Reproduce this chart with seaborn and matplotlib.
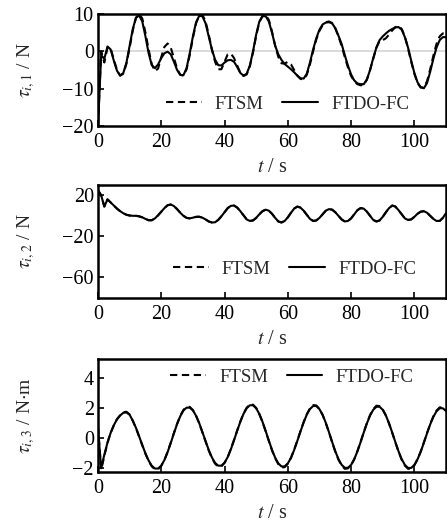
import numpy as np
import pandas as pd
import matplotlib
matplotlib.use("Agg")
import matplotlib.pyplot as plt
import seaborn as sns

# ---------------- data ----------------
time_s = list(range(0, 111))  # sample times, 1 s apart

tau1_ftdo = [-20, -1, -2, 1.3, 0.5, -2.5, -5.2, -6.5, -5.8, -3, 1.5, 6, 9, 9.6, 8, 4, -0.5, -3.7, -4.5, -3.5,
             -1.8, -0.5, -0.1, -0.8, -2.8, -5, -6.3, -6.4, -4.5, -0.5, 4, 7.8, 9.5, 9.4, 7.5, 4, 0.5, -2.2, -3.7, -3.8,
             -3, -2.4, -2.3, -2.8, -4.2, -5.8, -6.5, -6, -3.8, 0, 4.5, 8, 9.4, 9.4, 8, 5, 1.5, -0.8, -2.3, -3.4,
             -4.1, -4.8, -5.6, -6.5, -7.2, -7.3, -6, -3, 0.5, 3.5, 5.8, 7.2, 7.7, 7.8, 7.5, 6.2, 4.2, 2, -1, -3.8,
             -6.2, -7.8, -8.6, -8.8, -8.8, -7.5, -5, -1.8, 1, 3, 4, 4.8, 5.5, 6, 6.4, 6.5, 5.8, 3.8, 1, -2.5,
             -5.8, -8.3, -9.6, -9.9, -8.5, -5.5, -2, 1, 3, 3.8, 3.8]
tau1_ftsm = [-20, 0, -3, 1.0, 0.8, -2.2, -5, -6.5, -6, -3.3, 1, 5.6, 9, 10, 8.8, 5, 0.5, -3.5, -5.3, -4.6,
             -1.5, 1.2, 2.1, 1, -1.8, -4.6, -6.3, -6.5, -4.8, -1, 3.6, 7.5, 9.6, 9.8, 8, 4.5, 0.5, -2.8, -4.8, -4.8,
             -2.8, -0.8, -0.6, -1.8, -3.8, -5.8, -6.6, -6.2, -4, -0.3, 4.2, 7.8, 9.5, 9.7, 8.4, 5.3, 1.5, -1.5, -3.2, -3.3,
             -2.8, -3.5, -5, -6.5, -7.4, -7.5, -6.3, -3.5, 0, 3.2, 5.5, 7, 7.8, 8, 7.6, 6.2, 4, 1.5, -1.5, -4.3,
             -6.6, -8, -8.8, -9.1, -9, -7.6, -5, -2, 1, 2.8, 3, 3.5, 4.5, 5.6, 6.5, 6.8, 6, 4, 0.8, -2.8,
             -6, -8.5, -9.7, -9.7, -8, -4.8, -1.2, 2, 4, 4.8, 4.6]

tau2_ftdo = [25, 20, 9, 16, 13, 10, 7, 4.5, 2.5, 1, 0.3, 0, 0, -0.5, -1.5, -3, -4.3, -4.3, -2.5, 0.5,
             4, 7.5, 10.3, 11, 9.5, 6.5, 3, 0, -2, -2.5, -1.8, -1, -0.9, -1.8, -3.5, -5.5, -6.5, -6.3, -4, -0.5,
             3.5, 7.5, 9.7, 10, 8, 4.5, 0.5, -3.5, -5, -4.5, -2, 1.5, 4.5, 6, 5, 2, -2, -5.5, -6.5, -5,
             -1.5, 3, 7, 9, 8, 5, 1, -3, -5, -4.5, -2, 1.5, 5, 6.5, 6, 3.5, 0, -3.5, -5.5, -5,
             -2.5, 1.5, 5.5, 7.5, 7, 4, 0, -4, -5.5, -4.5, -1, 3.5, 7.5, 10, 9, 5.5, 1.5, -2.5, -4, -3.5,
             -1, 2, 4, 4.5, 3, 0, -3, -5, -5, -2, 2.5]
tau2_ftsm = tau2_ftdo  # the two curves coincide in the reference

tau3_ftdo = [0.6, -2.0, -1.1, -0.3, 0.35, 0.85, 1.25, 1.5, 1.68, 1.7, 1.55, 1.15, 0.68, 0.12, -0.46, -1.02, -1.49, -1.84, -2.02, -2.02,
             -1.83, -1.45, -0.93, -0.32, 0.32, 0.93, 1.45, 1.83, 2.02, 2.02, 1.84, 1.48, 0.99, 0.40, -0.20, -0.79, -1.28, -1.64, -1.83, -1.83,
             -1.63, -1.26, -0.74, -0.14, 0.49, 1.09, 1.61, 1.98, 2.18, 2.18, 1.98, 1.60, 1.08, 0.47, -0.17, -0.78, -1.30, -1.68, -1.88, -1.88,
             -1.68, -1.31, -0.79, -0.19, 0.44, 1.04, 1.56, 1.93, 2.13, 2.13, 1.92, 1.54, 1.02, 0.40, -0.25, -0.87, -1.39, -1.77, -1.97, -1.97,
             -1.78, -1.40, -0.88, -0.27, 0.37, 0.98, 1.50, 1.88, 2.08, 2.08, 1.88, 1.50, 0.98, 0.37, -0.27, -0.88, -1.40, -1.78, -1.98, -1.98,
             -1.78, -1.41, -0.91, -0.31, 0.31, 0.91, 1.41, 1.78, 1.98, 1.98, 1.80]
tau3_ftsm = [0.8, -2.1, -1.2, -0.3, 0.35, 0.85, 1.25, 1.52, 1.72, 1.75, 1.57, 1.15, 0.66, 0.10, -0.48, -1.04, -1.52, -1.88, -2.08, -2.06,
             -1.84, -1.45, -0.92, -0.30, 0.34, 0.95, 1.48, 1.87, 2.08, 2.07, 1.86, 1.48, 0.98, 0.38, -0.22, -0.82, -1.32, -1.70, -1.90, -1.88,
             -1.65, -1.26, -0.72, -0.12, 0.51, 1.11, 1.64, 2.02, 2.24, 2.22, 2.00, 1.60, 1.06, 0.45, -0.19, -0.81, -1.34, -1.73, -1.95, -1.93,
             -1.70, -1.31, -0.77, -0.17, 0.46, 1.06, 1.59, 1.97, 2.19, 2.17, 1.94, 1.54, 1.00, 0.38, -0.27, -0.90, -1.43, -1.82, -2.04, -2.01,
             -1.80, -1.40, -0.86, -0.25, 0.39, 1.00, 1.53, 1.92, 2.15, 2.12, 1.90, 1.50, 0.96, 0.35, -0.29, -0.91, -1.44, -1.83, -2.04, -2.02,
             -1.80, -1.41, -0.89, -0.29, 0.33, 0.93, 1.44, 1.82, 2.04, 2.03, 1.84]

methods = ["FTSM", "FTDO-FC"]
ylabels = [r"$\tau_{i,1}$ / N", r"$\tau_{i,2}$ / N", r"$\tau_{i,3}$ / N$\cdot$m"]
ylims = [(-20, 10), (-80, 30), (-2.25, 5.25)]
yticks = [[-20, -10, 0, 10], [-60, -20, 20], [-2, 0, 2, 4]]
xticks = [0, 20, 40, 60, 80, 100]

# ---------------- style ----------------
sns.set_theme(style="ticks")
plt.rcParams["font.family"] = ["Liberation Serif", "DejaVu Serif"]
plt.rcParams["mathtext.fontset"] = "stix"
plt.rcParams["axes.linewidth"] = 1.8
plt.rcParams["xtick.direction"] = "in"
plt.rcParams["ytick.direction"] = "in"

fig = plt.figure(figsize=(4.47, 5.24), dpi=100)
W, H = 447.0, 524.0
boxes = [(98, 14, 446, 126), (98, 185, 446, 298), (98, 359, 446, 472)]
legend_pos = [(0.545, 0.195), (0.565, 0.255), (0.557, 0.838)]
series = [(tau1_ftsm, tau1_ftdo), (tau2_ftsm, tau2_ftdo), (tau3_ftsm, tau3_ftdo)]

for i, (x0, y0, x1, y1) in enumerate(boxes):
    ax = fig.add_axes([x0 / W, 1 - y1 / H, (x1 - x0) / W, (y1 - y0) / H])
    ftsm, ftdo = series[i]
    df = pd.DataFrame({
        "t": time_s + time_s,
        "tau": list(ftsm) + list(ftdo),
        "method": ["FTSM"] * len(time_s) + ["FTDO-FC"] * len(time_s),
    })
    if i == 0:
        ax.axhline(0, color="#d4d4d4", lw=1.2, zorder=0)
    sns.lineplot(data=df, x="t", y="tau", hue="method", style="method",
                 hue_order=methods, style_order=methods,
                 palette={"FTSM": "black", "FTDO-FC": "black"},
                 dashes={"FTSM": (3.5, 2.2), "FTDO-FC": ""},
                 ax=ax, estimator=None, sort=False)
    for ln, lw in zip(ax.lines[-2:], [1.2, 1.5]):
        ln.set_linewidth(lw)
    ax.set_xlim(0, 110)
    ax.set_ylim(*ylims[i])
    ax.set_xticks(xticks)
    ax.set_yticks(yticks[i])
    ax.tick_params(axis="both", labelsize=14.5, length=4, width=1.2,
                   top=False, right=False, colors="black")
    ax.tick_params(axis="x", pad=5)
    ax.tick_params(axis="y", pad=3)
    for sp in ax.spines.values():
        sp.set_visible(True)
        sp.set_color("black")
    ax.set_xlabel(r"$t$ / s", fontsize=14.5, labelpad=4)
    ax.set_ylabel(ylabels[i], fontsize=14)
    ax.yaxis.set_label_coords(-0.175, 0.5)
    handles, labels = ax.get_legend_handles_labels()
    for h in handles:
        h.set_linewidth(1.5)
    ax.legend(handles, labels, loc="center", bbox_to_anchor=legend_pos[i],
              ncol=2, frameon=False, fontsize=13.5, handlelength=1.9,
              columnspacing=1.0, handletextpad=0.7, borderpad=0)

fig.savefig("out.png", dpi=100)
